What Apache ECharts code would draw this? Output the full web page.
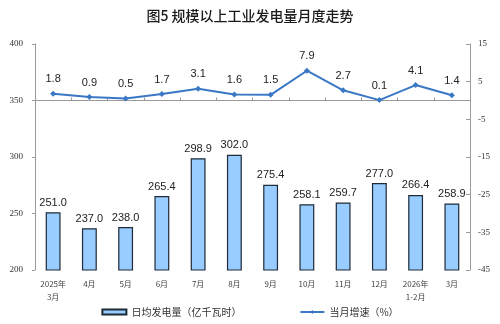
<!DOCTYPE html>
<html>
<head>
<meta charset="utf-8">
<style>
  html, body { margin: 0; padding: 0; background: #fff; }
  #chart { width: 500px; height: 324px; }
</style>
<script src="https://cdn.jsdelivr.net/npm/echarts@6/dist/echarts.min.js"></script>
</head>
<body>
<div id="chart"></div>
<script>
// Monthly power generation of industrial enterprises above designated size
const categories = ['2025年\n3月', '4月', '5月', '6月', '7月', '8月', '9月', '10月', '11月', '12月', '2026年\n1-2月', '3月'];
const dailyOutput = [251.0, 237.0, 238.0, 265.4, 298.9, 302.0, 275.4, 258.1, 259.7, 277.0, 266.4, 258.9];
const growthRate = [1.8, 0.9, 0.5, 1.7, 3.1, 1.6, 1.5, 7.9, 2.7, 0.1, 4.1, 1.4];
const leftTicks = { min: 200, max: 400, interval: 50 };
const rightTicks = { min: -45, max: 15, interval: 10 };

const cjk = '"Noto Sans CJK SC", "Noto Sans", sans-serif';
const serif = '"Liberation Serif", "DejaVu Serif", serif';
const sans = '"Liberation Sans", Arial, sans-serif';

const chart = echarts.init(document.getElementById('chart'), null, { renderer: 'canvas' });

chart.setOption({
  animation: false,
  backgroundColor: '#ffffff',
  title: {
    text: '图5 规模以上工业发电量月度走势',
    left: 'center',
    top: 4,
    textStyle: { fontFamily: cjk, fontSize: 14, fontWeight: 500, color: '#1a1a1a' }
  },
  legend: {
    bottom: 2,
    left: 'center',
    itemGap: 58,
    itemWidth: 24,
    itemHeight: 5,
    textStyle: { fontFamily: cjk, fontSize: 10, color: '#333' },
    data: [
      { name: '日均发电量（亿千瓦时）', icon: 'rect' },
      { name: '当月增速（%）' }
    ]
  },
  grid: { left: 35, right: 30, top: 44, bottom: 54 },
  xAxis: {
    type: 'category',
    data: categories,
    axisLine: { lineStyle: { color: '#9a9a9a' } },
    axisTick: { show: true, length: 3, inside: true, lineStyle: { color: '#9a9a9a' } },
    axisLabel: { fontFamily: cjk, fontSize: 8, color: '#444', margin: 7, lineHeight: 13, interval: 0 }
  },
  yAxis: [
    {
      type: 'value',
      min: leftTicks.min, max: leftTicks.max, interval: leftTicks.interval,
      axisLine: { show: true, lineStyle: { color: '#9a9a9a' } },
      axisTick: { show: true, length: 3, lineStyle: { color: '#9a9a9a' } },
      splitLine: { show: false },
      axisLabel: { fontFamily: serif, fontSize: 9, color: '#333', margin: 12 }
    },
    {
      type: 'value',
      min: rightTicks.min, max: rightTicks.max, interval: rightTicks.interval,
      axisLine: { show: true, lineStyle: { color: '#9a9a9a' } },
      axisTick: { show: true, length: 4, inside: true, lineStyle: { color: '#9a9a9a' } },
      splitLine: { show: false },
      axisLabel: { fontFamily: serif, fontSize: 9, color: '#333', margin: 8 }
    }
  ],
  series: [
    {
      name: '日均发电量（亿千瓦时）',
      type: 'bar',
      data: dailyOutput,
      barWidth: '41%',
      itemStyle: { color: '#99ccff', borderColor: '#1d2a38', borderWidth: 1.2 },
      label: {
        show: true, position: 'top', distance: 4,
        formatter: p => p.value.toFixed(1),
        fontFamily: sans, fontSize: 11, color: '#222'
      }
    },
    {
      name: '当月增速（%）',
      type: 'line',
      yAxisIndex: 1,
      data: growthRate,
      symbol: 'diamond',
      symbolSize: 6,
      lineStyle: { color: '#3a78c6', width: 2 },
      itemStyle: { color: '#3a78c6' },
      label: {
        show: true, position: 'top', distance: 6,
        formatter: p => p.value.toFixed(1),
        fontFamily: sans, fontSize: 11, color: '#222'
      }
    }
  ]
});
</script>
</body>
</html>
